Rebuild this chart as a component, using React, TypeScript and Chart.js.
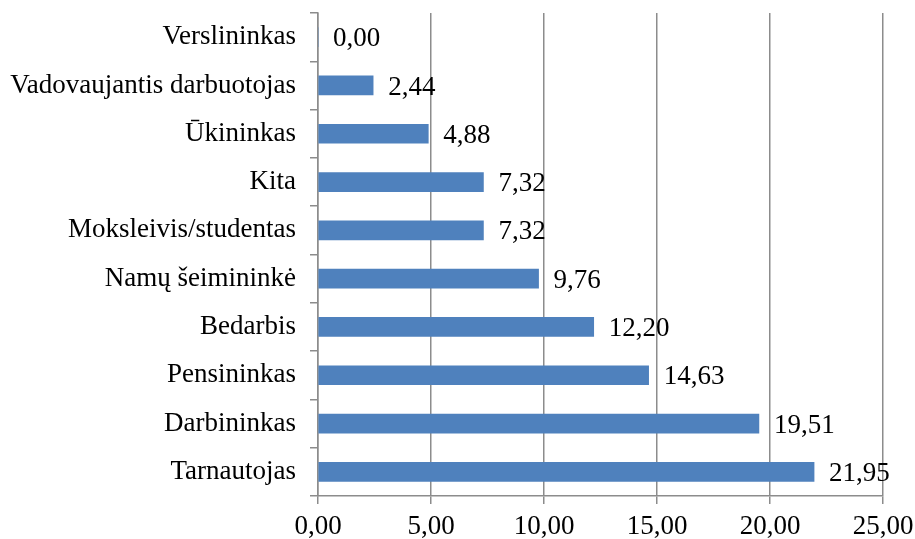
import React, { useEffect, useRef } from "react";
import { Chart, registerables } from "chart.js";

Chart.register(...registerables);

const categories = [
  "Verslininkas",
  "Vadovaujantis darbuotojas",
  "Ūkininkas",
  "Kita",
  "Moksleivis/studentas",
  "Namų šeimininkė",
  "Bedarbis",
  "Pensininkas",
  "Darbininkas",
  "Tarnautojas",
];
const values = [0.0, 2.44, 4.88, 7.32, 7.32, 9.76, 12.2, 14.63, 19.51, 21.95];
const xTicks = [0, 5, 10, 15, 20, 25];

const FONT = "'Liberation Serif', 'Times New Roman', serif";
const GRID = "#8c8c8c";
const FS = 27;

const fmt = (v: number) => v.toFixed(2).replace(".", ",");

const labelPlugin = {
  id: "barLabels",
  afterDatasetsDraw(chart: any) {
    const ctx = chart.ctx;
    const meta = chart.getDatasetMeta(0);
    ctx.save();
    ctx.font = `${FS}px ${FONT}`;
    ctx.fillStyle = "#000";
    ctx.textAlign = "left";
    ctx.textBaseline = "middle";
    meta.data.forEach((el: any, i: number) => {
      ctx.fillText(fmt(values[i]), el.x + 15, el.y + 2);
    });
    ctx.restore();
  },
};

export default function App() {
  const ref = useRef<HTMLCanvasElement>(null);
  useEffect(() => {
    document.body.style.margin = "0";
    const chart = new Chart(ref.current!, {
      type: "bar",
      data: {
        labels: categories,
        datasets: [
          {
            data: values,
            backgroundColor: "#4f81bd",
            barThickness: 19,
          },
        ],
      },
      options: {
        indexAxis: "y",
        responsive: false,
        animation: false,
        layout: { padding: { left: 0, top: 13, right: 32, bottom: 0 } },
        plugins: { legend: { display: false }, tooltip: { enabled: false } },
        scales: {
          x: {
            min: 0,
            max: 25,
            afterBuildTicks: (axis: any) => {
              axis.ticks = xTicks.map((v) => ({ value: v }));
            },
            afterFit: (axis: any) => {
              axis.height = 43;
              axis.paddingLeft = 0;
              axis.paddingRight = 0;
            },
            grid: { color: GRID, lineWidth: 1.5, tickLength: 8 },
            border: { display: true, color: GRID, width: 1.5 },
            ticks: {
              color: "#000",
              font: { family: FONT, size: FS },
              padding: 7,
              maxRotation: 0,
              callback: (v: any) => fmt(Number(v)),
            },
          },
          y: {
            afterFit: (axis: any) => {
              axis.width = 318;
              axis.paddingTop = 0;
              axis.paddingBottom = 0;
            },
            grid: {
              offset: true,
              drawOnChartArea: false,
              color: GRID,
              lineWidth: 1.5,
              tickLength: 8,
            },
            border: { display: true, color: GRID, width: 1.5 },
            ticks: {
              color: "#000",
              font: { family: FONT, size: FS },
              padding: 14,
              autoSkip: false,
            },
          },
        },
      },
      plugins: [labelPlugin],
    });
    return () => chart.destroy();
  }, []);
  return <canvas ref={ref} width={915} height={539} />;
}
